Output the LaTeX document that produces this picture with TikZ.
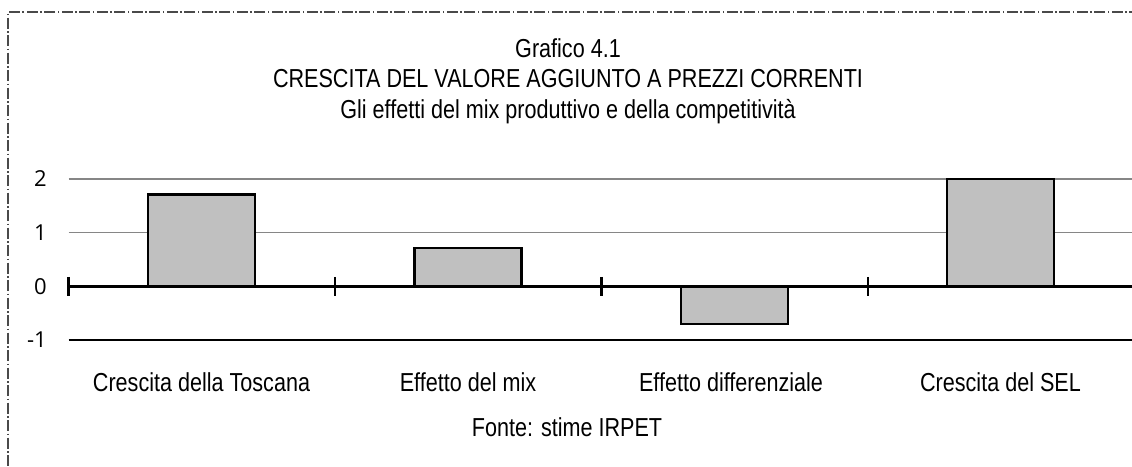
\documentclass[tikz,border=0pt]{standalone}
\usepackage{fontspec}
\setmainfont{Liberation Sans}[FakeStretch=0.83]
\newfontfamily\digitfont{Open Sans}
\usetikzlibrary{positioning}
\definecolor{barfill}{HTML}{C0C0C0}
\definecolor{gridgray}{HTML}{868686}
\definecolor{framegray}{HTML}{4A4A4A}
\tikzset{frame/.style = {draw=framegray, line width=1.2pt,
                         dash pattern=on 11pt off 2.5pt on 1.5pt off 2.5pt}}
\tikzset{txt/.style = {inner sep = 0, anchor = base, font = \fontsize{26}{31}\selectfont}}
\tikzset{ylbl/.style = {inner sep = 0, anchor = east, font = \digitfont\fontsize{22}{26}\selectfont}}
\tikzset{gridln/.style = {draw=gridgray, line width=1.3pt}}
\tikzset{axisln/.style = {draw=black, line width=3pt}}
\tikzset{tickln/.style = {draw=black, line width=2.4pt}}
\tikzset{barbox/.style = {draw=black, line width=2.6pt, fill=barfill}}

\begin{document}
\begin{tikzpicture}[x=1pt, y=-1pt]
      \useasboundingbox (0,0) rectangle (1132,466);
      \draw [frame] (1140,12) -- (8,12) -- (8,472);
      \node [txt] (grafico) at (568,57) {Grafico 4.1};
      \node [txt] (titolo) at (568,87.5) {CRESCITA DEL VALORE AGGIUNTO A PREZZI CORRENTI};
      \node [txt] (sottotitolo) at (568,118) {Gli effetti del mix produttivo e della competitività};
      \begin{scope}[shift={(0,286.3)}, y=53.7pt]
        \coordinate (asse0) at (68.5,0);
        \coordinate (asse1) at (1132,0);
        \foreach \v in {1,2}
          \draw [gridln] (68.5,\v) -- (1132,\v);
        \draw [black, line width=1.2pt] (68.5,-1) -- (1132,-1);
        \foreach \v in {-1,0,1,2}
          \node [ylbl] (y\v) at (47,\v) {\v};
        \foreach \c/\h in {201.5/1.71, 468/0.71, 734.5/-0.70, 1000.5/2.0}
          \draw [barbox] (\c-53.5,0) rectangle (\c+53.5,\h);
        \draw [axisln] (asse0) -- (asse1);
        \foreach \x in {68.5,335,601.5,868}
          \draw [tickln] (\x,0.175) -- (\x,-0.18);
      \end{scope}
      \node [txt] (cat1) at (201.5,391) {Crescita della Toscana};
      \node [txt] (cat2) at (468,391) {Effetto del mix};
      \node [txt] (cat3) at (731,391) {Effetto differenziale};
      \node [txt] (cat4) at (1000.5,391) {Crescita del SEL};
      \node [txt] (fonte) at (567,436.7) {Fonte: stime IRPET};
    \end{tikzpicture}
\end{document}
